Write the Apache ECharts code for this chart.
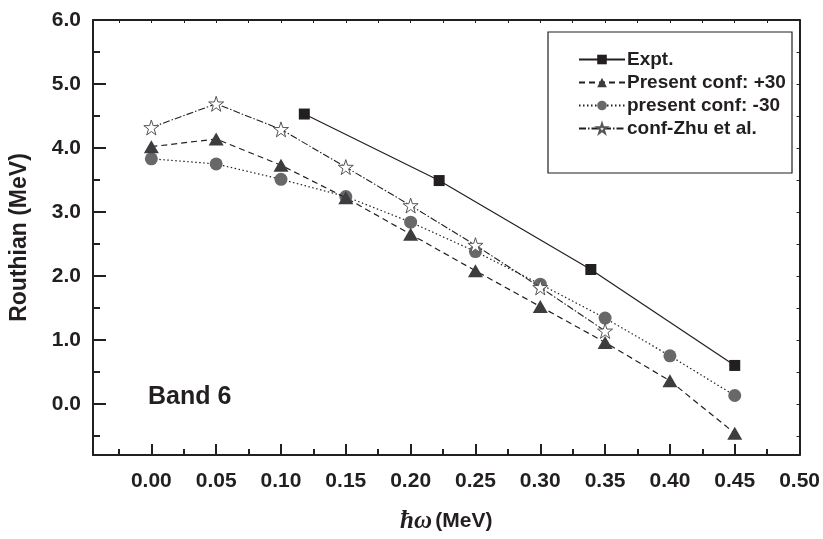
<!DOCTYPE html>
<html>
<head>
<meta charset="utf-8">
<script src="https://cdn.jsdelivr.net/npm/echarts@6/dist/echarts.min.js"></script>
<style>html,body{margin:0;padding:0;background:#fff}#c{width:823px;height:539px}</style>
</head>
<body>
<div id="c"></div>
<script>
// ---- data ----
var exptX = [0.118, 0.222, 0.339, 0.450];
var exptY = [4.53, 3.49, 2.10, 0.60];
var calcX = [0.00, 0.05, 0.10, 0.15, 0.20, 0.25, 0.30, 0.35, 0.40, 0.45];
var plus30Y = [4.02, 4.14, 3.73, 3.22, 2.65, 2.08, 1.52, 0.96, 0.36, -0.46];
var minus30Y = [3.83, 3.75, 3.51, 3.24, 2.84, 2.38, 1.87, 1.34, 0.75, 0.13];
var zhuX = [0.00, 0.05, 0.10, 0.15, 0.20, 0.25, 0.30, 0.35];
var zhuY = [4.32, 4.69, 4.29, 3.70, 3.10, 2.48, 1.82, 1.14];
var seriesNames = ['Expt.', 'Present conf: +30', 'present conf: -30', 'conf-Zhu et al.'];
var xMajor = [0.00, 0.05, 0.10, 0.15, 0.20, 0.25, 0.30, 0.35, 0.40, 0.45, 0.50];
var xMinor = [-0.025, 0.025, 0.075, 0.125, 0.175, 0.225, 0.275, 0.325, 0.375, 0.425, 0.475];
var yMajor = [0, 1, 2, 3, 4, 5, 6];
var yMinor = [-0.5, 0.5, 1.5, 2.5, 3.5, 4.5, 5.5];

function pairs(xs, ys) { return xs.map(function (x, i) { return [x, ys[i]]; }); }

var XMIN = -0.045, XMAX = 0.5, YMIN = -0.8, YMAX = 6.0;
var FONT = 'Liberation Sans, Arial, sans-serif';
var AX = '#231f20';
var starPath = 'path://M50,2 L61,36 L97,36 L68,57 L79,92 L50,71 L21,92 L32,57 L3,36 L39,36 Z';

var chart = echarts.init(document.getElementById('c'), null, {renderer: 'canvas'});
chart.setOption({
  animation: false,
  backgroundColor: '#fff',
  grid: {left: 93, right: 20, top: 20, bottom: 76, containLabel: false},
  title: {
    text: 'Band 6', left: 143, top: 380,
    textStyle: {fontFamily: FONT, fontWeight: 'bold', fontSize: 25, color: AX}
  },
  legend: {
    orient: 'vertical', left: 573, top: 45, itemWidth: 46, itemHeight: 12, itemGap: 4,
    data: seriesNames,
    textStyle: {fontFamily: FONT, fontWeight: 'bold', fontSize: 19, color: AX, padding: [0, 0, 0, -3]}
  },
  graphic: [{
    type: 'rect', shape: {x: 548, y: 32, width: 244, height: 141},
    style: {fill: 'none', stroke: AX, lineWidth: 1.2}, z: 1
  }],
  xAxis: [{
    type: 'value', position: 'bottom', min: XMIN, max: XMAX,
    axisLine: {show: true, onZero: false, lineStyle: {color: AX, width: 2}},
    axisTick: {show: true, inside: true, length: 11, customValues: xMajor, lineStyle: {color: AX, width: 2}},
    axisLabel: {show: true, customValues: xMajor, margin: 16, color: AX, fontFamily: FONT, fontWeight: 'bold', fontSize: 21,
      formatter: function (v) { return v.toFixed(2); }},
    splitLine: {show: false},
    name: '{a|ħω} {b|(MeV)}', nameLocation: 'middle', nameGap: 54,
    nameTextStyle: {rich: {
      a: {fontFamily: 'Liberation Serif, serif', fontStyle: 'italic', fontWeight: 'bold', fontSize: 25, color: AX},
      b: {fontFamily: FONT, fontWeight: 'bold', fontSize: 21, color: AX}
    }}
  }, {
    type: 'value', position: 'bottom', min: XMIN, max: XMAX,
    axisLine: {show: false, onZero: false},
    axisTick: {show: true, inside: true, length: 6, customValues: xMinor, lineStyle: {color: AX, width: 2}},
    axisLabel: {show: false}, splitLine: {show: false}
  }, {
    type: 'value', position: 'top', min: XMIN, max: XMAX,
    axisLine: {show: true, onZero: false, lineStyle: {color: AX, width: 2}},
    axisTick: {show: true, inside: true, length: 3, customValues: xMajor.concat(xMinor), lineStyle: {color: AX, width: 1}},
    axisLabel: {show: false}, splitLine: {show: false}
  }],
  yAxis: [{
    type: 'value', position: 'left', min: YMIN, max: YMAX,
    axisLine: {show: true, onZero: false, lineStyle: {color: AX, width: 2}},
    axisTick: {show: true, inside: true, length: 13, customValues: yMajor, lineStyle: {color: AX, width: 2}},
    axisLabel: {show: true, customValues: yMajor, margin: 12, color: AX, fontFamily: FONT, fontWeight: 'bold', fontSize: 21,
      formatter: function (v) { return v.toFixed(1); }},
    splitLine: {show: false},
    name: 'Routhian (MeV)', nameLocation: 'middle', nameGap: 62, nameRotate: 90,
    nameTextStyle: {fontFamily: FONT, fontWeight: 'bold', fontSize: 23, color: AX}
  }, {
    type: 'value', position: 'left', min: YMIN, max: YMAX,
    axisLine: {show: false, onZero: false},
    axisTick: {show: true, inside: true, length: 7, customValues: yMinor, lineStyle: {color: AX, width: 2}},
    axisLabel: {show: false}, splitLine: {show: false}
  }, {
    type: 'value', position: 'right', min: YMIN, max: YMAX,
    axisLine: {show: true, onZero: false, lineStyle: {color: AX, width: 2}},
    axisTick: {show: true, inside: true, length: 3, customValues: yMajor.concat(yMinor), lineStyle: {color: AX, width: 1}},
    axisLabel: {show: false}, splitLine: {show: false}
  }],
  series: [{
    name: seriesNames[0], type: 'line', data: pairs(exptX, exptY), z: 5,
    symbol: 'rect', symbolSize: 11,
    itemStyle: {color: '#231f20'},
    lineStyle: {color: '#231f20', width: 1.2, type: 'solid'}
  }, {
    name: seriesNames[1], type: 'line', data: pairs(calcX, plus30Y), z: 4,
    symbol: 'triangle', symbolSize: [15, 13],
    itemStyle: {color: '#3d3d3f'},
    lineStyle: {color: '#231f20', width: 1.2, type: [6, 4]}
  }, {
    name: seriesNames[2], type: 'line', data: pairs(calcX, minus30Y), z: 3,
    symbol: 'circle', symbolSize: 13,
    itemStyle: {color: '#68686a'},
    lineStyle: {color: '#231f20', width: 1.2, type: [1.5, 2.5]}
  }, {
    name: seriesNames[3], type: 'line', data: pairs(zhuX, zhuY), z: 6,
    symbol: starPath, symbolSize: 15,
    itemStyle: {color: '#fff', borderColor: '#555', borderWidth: 1},
    lineStyle: {color: '#231f20', width: 1.1, type: [7, 2, 1.5, 2]}
  }]
});
</script>
</body>
</html>
